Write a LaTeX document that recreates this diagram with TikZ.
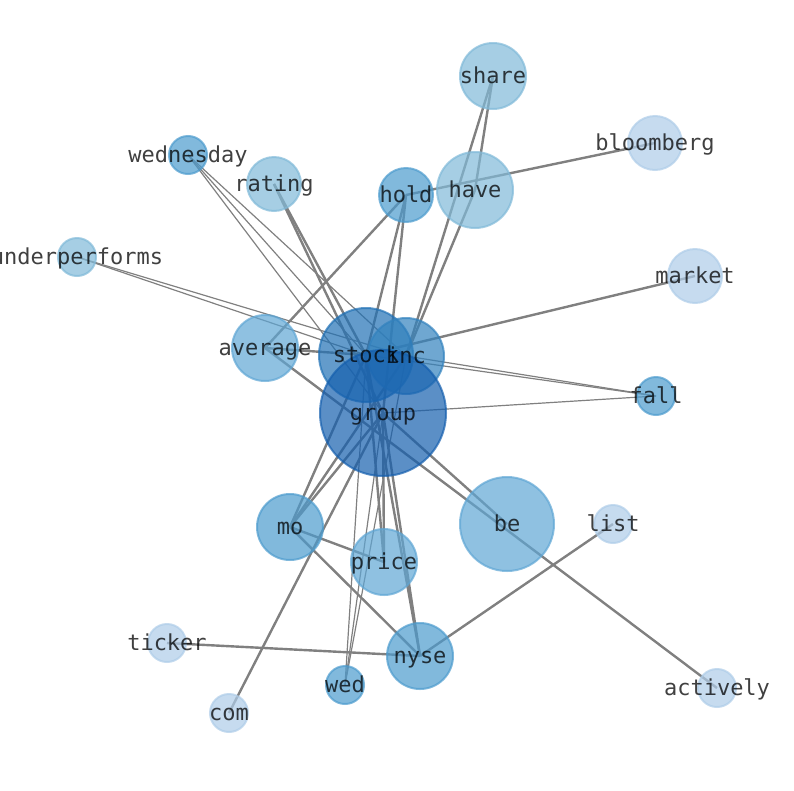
\documentclass[tikz,border=0pt]{standalone}
\usepackage{fontspec}
\setmonofont{DejaVu Sans Mono}
\usepackage{xcolor}
\usepackage{tikz}
\definecolor{tone1}{RGB}{21,95,174}
\definecolor{tone2}{RGB}{33,113,181}
\definecolor{tone3}{RGB}{50,130,190}
\definecolor{tone4}{RGB}{76,155,205}
\definecolor{tone5}{RGB}{95,166,212}
\definecolor{tone6}{RGB}{128,185,216}
\definecolor{tone7}{RGB}{174,204,232}
\definecolor{linkgray}{RGB}{128,128,128}

\begin{document}
\begin{tikzpicture}[x=1pt,y=-1pt,
  link/.style={draw=linkgray, line width=2.4pt},
  fine link/.style={draw=linkgray, line width=1.2pt},
  dot/.style={line width=2pt, opacity=0.7},
  word/.style={font=\ttfamily\fontsize{22}{24}\selectfont, text=black, text opacity=0.75,
    inner sep=0pt, text height=0.76em, text depth=0.24em, yshift=-5pt}]
\useasboundingbox (0,0) rectangle (794,790);
% positions
\coordinate (share) at (493,76);
\coordinate (bloomberg) at (655,143);
\coordinate (wednesday) at (188,155);
\coordinate (rating) at (274,184);
\coordinate (hold) at (406,195);
\coordinate (have) at (475,190);
\coordinate (underperforms) at (77,257);
\coordinate (market) at (695,276);
\coordinate (average) at (265,348);
\coordinate (stock) at (366,355);
\coordinate (inc) at (406,356);
\coordinate (group) at (383,413);
\coordinate (fall) at (656,396);
\coordinate (mo) at (290,527);
\coordinate (be) at (507,524);
\coordinate (list) at (613,524);
\coordinate (price) at (384,562);
\coordinate (ticker) at (167,643);
\coordinate (nyse) at (420,656);
\coordinate (wed) at (345,685);
\coordinate (com) at (229,713);
\coordinate (actively) at (717,688);
% edges
\draw[link] (share) -- (inc);
\draw[link] (share) -- (have);
\draw[link] (have) -- (inc);
\draw[link] (bloomberg) -- (hold);
\draw[link] (hold) -- (stock);
\draw[link] (hold) -- (group);
\draw[link] (hold) -- (average);
\draw[link] (rating) -- (stock);
\draw[link] (rating) -- (group);
\draw[link] (market) -- (stock);
\draw[link] (average) -- (stock);
\draw[link] (average) -- (actively);
\draw[link] (group) -- (be);
\draw[link] (mo) -- (group);
\draw[link] (mo) -- (stock);
\draw[link] (mo) -- (inc);
\draw[link] (mo) -- (price);
\draw[link] (mo) -- (nyse);
\draw[link] (price) -- (group);
\draw[link] (price) -- (stock);
\draw[link] (nyse) -- (group);
\draw[link] (nyse) -- (stock);
\draw[link] (nyse) -- (list);
\draw[link] (nyse) -- (ticker);
\draw[link] (com) -- (group);
\draw[fine link] (wednesday) -- (stock);
\draw[fine link] (wednesday) -- (inc);
\draw[fine link] (wednesday) -- (group);
\draw[fine link] (underperforms) -- (stock);
\draw[fine link] (underperforms) -- (inc);
\draw[fine link] (fall) -- (stock);
\draw[fine link] (fall) -- (inc);
\draw[fine link] (fall) -- (group);
\draw[fine link] (wed) -- (stock);
\draw[fine link] (wed) -- (inc);
\draw[fine link] (wed) -- (group);
% circles
\draw[dot, fill=tone6, draw=tone6] (share) circle (33);
\draw[dot, fill=tone7, draw=tone7] (bloomberg) circle (27);
\draw[dot, fill=tone4, draw=tone4] (wednesday) circle (19);
\draw[dot, fill=tone6, draw=tone6] (rating) circle (27);
\draw[dot, fill=tone4, draw=tone4] (hold) circle (27);
\draw[dot, fill=tone6, draw=tone6] (have) circle (38);
\draw[dot, fill=tone6, draw=tone6] (underperforms) circle (19);
\draw[dot, fill=tone7, draw=tone7] (market) circle (27);
\draw[dot, fill=tone5, draw=tone5] (average) circle (33);
\draw[dot, fill=tone2, draw=tone2] (stock) circle (47);
\draw[dot, fill=tone3, draw=tone3] (inc) circle (38);
\draw[dot, fill=tone1, draw=tone1] (group) circle (63);
\draw[dot, fill=tone4, draw=tone4] (fall) circle (19);
\draw[dot, fill=tone4, draw=tone4] (mo) circle (33);
\draw[dot, fill=tone5, draw=tone5] (be) circle (47);
\draw[dot, fill=tone7, draw=tone7] (list) circle (19);
\draw[dot, fill=tone5, draw=tone5] (price) circle (33);
\draw[dot, fill=tone7, draw=tone7] (ticker) circle (19);
\draw[dot, fill=tone4, draw=tone4] (nyse) circle (33);
\draw[dot, fill=tone4, draw=tone4] (wed) circle (19);
\draw[dot, fill=tone7, draw=tone7] (com) circle (19);
\draw[dot, fill=tone7, draw=tone7] (actively) circle (19);
% labels
\node[word] (share-l) at (share) {share};
\node[word] (bloomberg-l) at (bloomberg) {bloomberg};
\node[word] (wednesday-l) at (wednesday) {wednesday};
\node[word] (rating-l) at (rating) {rating};
\node[word] (hold-l) at (hold) {hold};
\node[word] (have-l) at (have) {have};
\node[word] (underperforms-l) at (underperforms) {underperforms};
\node[word] (market-l) at (market) {market};
\node[word] (average-l) at (average) {average};
\node[word] (stock-l) at (stock) {stock};
\node[word] (inc-l) at (inc) {inc};
\node[word] (group-l) at (group) {group};
\node[word] (fall-l) at (fall) {fall};
\node[word] (mo-l) at (mo) {mo};
\node[word] (be-l) at (be) {be};
\node[word] (list-l) at (list) {list};
\node[word] (price-l) at (price) {price};
\node[word] (ticker-l) at (ticker) {ticker};
\node[word] (nyse-l) at (nyse) {nyse};
\node[word] (wed-l) at (wed) {wed};
\node[word] (com-l) at (com) {com};
\node[word] (actively-l) at (actively) {actively};
\end{tikzpicture}
\end{document}
